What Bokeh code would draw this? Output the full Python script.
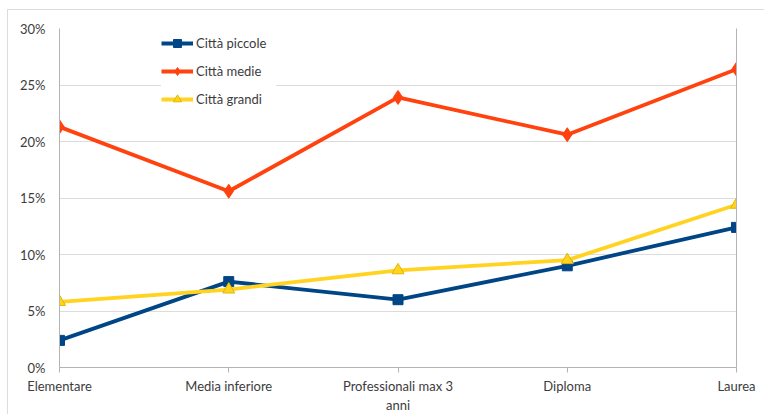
from bokeh.plotting import figure
from bokeh.models import (Range1d, FixedTicker, NumeralTickFormatter, Legend, LegendItem,
                          LinearAxis)
from bokeh.embed import file_html
from bokeh.resources import INLINE

categories = ["Elementare", "Media inferiore", "Professionali max 3\nanni", "Diploma", "Laurea"]
citta_piccole = [0.024, 0.076, 0.060, 0.090, 0.124]
citta_medie = [0.213, 0.156, 0.239, 0.206, 0.264]
citta_grandi = [0.058, 0.069, 0.086, 0.095, 0.144]
series_names = ["Città piccole", "Città medie", "Città grandi"]
y_ticks = [0, 0.05, 0.10, 0.15, 0.20, 0.25, 0.30]

xs = list(range(len(categories)))
FONT = "Lato"
TXT = "#3c3c3c"
AX = "#b3b3b3"

p = figure(width=757, height=405, output_backend="svg", toolbar_location=None,
           x_range=Range1d(0, len(categories) - 1), y_range=Range1d(0, 0.30),
           min_border_left=51, min_border_right=29, min_border_top=18, min_border_bottom=48,
           background_fill_color="white", border_fill_color="white",
           outline_line_color=None)
p.styles = {"margin-left": "7px", "margin-top": "9px",
            "border-top": "1px solid #dcdcdc", "border-left": "1px solid #dcdcdc"}

p.xaxis.ticker = FixedTicker(ticks=xs)
p.xaxis.major_label_overrides = {i: c for i, c in zip(xs, categories)}
p.yaxis.ticker = FixedTicker(ticks=y_ticks)
p.yaxis.formatter = NumeralTickFormatter(format="0%")

for ax in (p.xaxis[0], p.yaxis[0]):
    ax.axis_line_color = AX
    ax.axis_line_width = 1
    ax.major_tick_line_color = AX
    ax.minor_tick_line_color = None
    ax.major_label_text_font = FONT
    ax.major_label_text_font_size = "13px"
    ax.major_label_text_color = TXT
p.xaxis.major_tick_out = 5
p.xaxis.major_tick_in = 0
p.xaxis.major_label_standoff = 5
p.yaxis.major_tick_out = 0
p.yaxis.major_tick_in = 0
p.yaxis.major_label_standoff = 14

right_axis = LinearAxis(axis_line_color=AX, major_tick_line_color=None, minor_tick_line_color=None,
                        major_label_text_font_size="0px", major_label_text_color=None)
p.add_layout(right_axis, "right")

p.xgrid.grid_line_color = None
p.ygrid.grid_line_color = "#dcdcdc"
p.ygrid.grid_line_width = 1

colors = ["#004586", "#FF420E", "#FFD320"]

l1 = p.line(xs, citta_piccole, line_color=colors[0], line_width=3.8)
m1 = p.scatter(xs, citta_piccole, marker="square", size=10, fill_color=colors[0], line_color=colors[0])
l2 = p.line(xs, citta_medie, line_color=colors[1], line_width=3.8)
m2 = p.scatter(xs, citta_medie, marker="diamond", size=14, fill_color=colors[1], line_color=colors[1])
l3 = p.line(xs, citta_grandi, line_color=colors[2], line_width=3.8)
m3 = p.scatter(xs, citta_grandi, marker="triangle", size=12, fill_color=colors[2], line_color="#E0B800")

legend = Legend(items=[LegendItem(label=series_names[0], renderers=[l1, m1]),
                       LegendItem(label=series_names[1], renderers=[l2, m2]),
                       LegendItem(label=series_names[2], renderers=[l3, m3])],
                location=(102, 258), orientation="vertical",
                background_fill_color="white", background_fill_alpha=1.0,
                border_line_color=None, padding=6, spacing=8, margin=0,
                label_height=20, glyph_height=20, glyph_width=32, label_standoff=3,
                label_width=80,
                label_text_font=FONT, label_text_font_size="13px", label_text_color=TXT)
p.add_layout(legend, "center")

open("out.html", "w").write(file_html(p, INLINE))
